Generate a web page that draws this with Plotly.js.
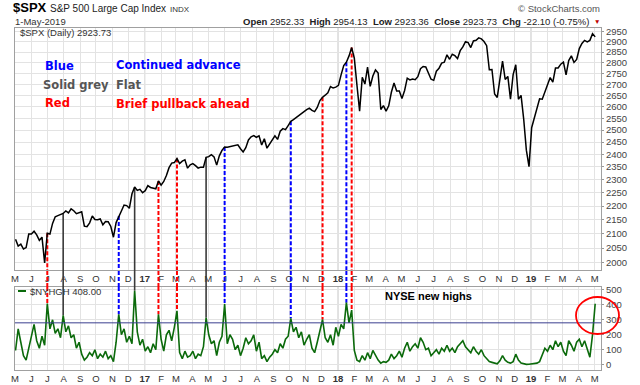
<!DOCTYPE html>
<html><head><meta charset="utf-8">
<script src="https://cdn.plot.ly/plotly-3.0.1.min.js"></script>
<style>html,body{margin:0;padding:0;background:#fff}#chart{width:640px;height:385px}</style>
</head><body><div id="chart"></div>
<script>
// ---------------- DATA ----------------
const startDate = '2016-05-02';
const stepDays = 5;

const spxClose = [
2081,2057,2064,2047,2052,2099,2099,2109,2096,2077,
2088,2000,2102,2099,2137,2161,2165,2169,2173,2182,
2175,2190,2183,2172,2176,2179,2127,2125,2139,2164,
2151,2150,2153,2132,2144,2143,2126,2088,2140,2164,
2182,2204,2202,2192,2246,2272,2259,2263,2250,2258,
2277,2270,2267,2265,2295,2279,2293,2316,2347,2365,
2367,2383,2363,2373,2378,2345,2358,2363,2355,2345,
2349,2349,2388,2391,2399,2390,2357,2394,2416,2430,
2429,2432,2433,2436,2439,2423,2410,2427,2459,2472,
2477,2470,2476,2438,2464,2425,2443,2457,2476,2461,
2495,2506,2502,2519,2537,2544,2553,2562,2569,2581,
2587,2594,2584,2579,2597,2627,2642,2651,2662,2690,
2683,2687,2695,2743,2786,2802,2832,2872,2821,2695,
2581,2732,2701,2779,2691,2738,2766,2752,2588,2605,
2581,2604,2664,2706,2670,2670,2636,2672,2728,2720,
2724,2721,2735,2772,2782,2780,2749,2723,2718,2760,
2774,2798,2802,2837,2816,2840,2833,2819,2857,2875,
2901,2896,2872,2904,2907,2919,2914,2901,2881,2767,
2768,2656,2641,2723,2807,2722,2736,2633,2744,2790,
2633,2650,2546,2417,2351,2510,2549,2596,2635,2633,
2665,2706,2731,2710,2775,2775,2793,2803,2743,2810,
2832,2801,2815,2867,2892,2907,2900,2907,2940,2924
];

const nyhgh = [
95,240,150,60,30,110,200,270,160,110,
190,130,409,240,300,210,240,180,330,220,
260,180,200,110,150,70,30,50,80,60,
100,40,70,50,90,40,60,20,150,337,
200,240,150,190,140,495,220,130,170,90,
120,80,140,100,337,170,90,200,230,160,
250,360,80,40,90,50,60,90,40,70,
60,120,314,200,140,160,60,150,190,406,
140,200,170,100,130,60,110,180,140,160,
200,90,150,40,60,20,50,70,100,80,
140,110,170,190,310,220,250,180,220,130,
170,200,110,80,150,220,302,180,150,200,
130,250,190,270,240,415,280,365,95,30,
20,60,30,80,40,95,60,30,10,20,
15,30,70,40,60,90,50,110,150,90,
120,140,110,180,150,100,110,60,80,100,
70,110,90,130,90,110,80,120,140,160,
120,100,80,120,90,70,100,60,40,20,
15,8,5,25,60,30,15,10,20,70,
30,10,5,2,3,5,8,10,20,60,
110,90,130,100,160,120,150,90,60,160,
130,90,150,170,120,160,110,50,200,408
];

const monthTicks = [
'2016-05-01','2016-06-01','2016-07-01','2016-08-01','2016-09-01','2016-10-01','2016-11-01','2016-12-01',
'2017-01-01','2017-02-01','2017-03-01','2017-04-01','2017-05-01','2017-06-01','2017-07-01','2017-08-01','2017-09-01','2017-10-01','2017-11-01','2017-12-01',
'2018-01-01','2018-02-01','2018-03-01','2018-04-01','2018-05-01','2018-06-01','2018-07-01','2018-08-01','2018-09-01','2018-10-01','2018-11-01','2018-12-01',
'2019-01-01','2019-02-01','2019-03-01','2019-04-01','2019-05-01'
];
const monthLabels = [
'M','J','J','A','S','O','N','D',
'<b>17</b>','F','M','A','M','J','J','A','S','O','N','D',
'<b>18</b>','F','M','A','M','J','J','A','S','O','N','D',
'<b>19</b>','F','M','A','M'
];
const yearStarts = ['2017-01-01','2018-01-01','2019-01-01'];
const priceTicks = [2000,2050,2100,2150,2200,2250,2300,2350,2400,2450,2500,2550,2600,2650,2700,2750,2800,2850,2900,2950];
const highsTicks = [0,100,200,300,400,500];

// signal markers (index into the series)
const redIdx = [12,54,61,116,127];
const blueIdx = [39,79,104,125];
const greyIdx = [18,45,72];
const threshold = 280;

// ---------------- BUILD ----------------
const dates = spxClose.map((_, i) => {
  const d = new Date(Date.UTC(2016,4,2) + i*stepDays*86400000);
  return d.toISOString().slice(0,10);
});

const W=640,H=385,M={l:15,r:39,t:28,b:15};
const px = x => (x - M.l)/(W - M.l - M.r);
const py = y => (H - M.b - y)/(H - M.t - M.b);

const priceMin = 1976, priceMax = 2968;
const highsMin = -36, highsMax = 520;
const topDomain = [100/342, 1];
const botDomain = [0, 83/342];

const FF = 'Liberation Sans, Arial, sans-serif';
const traces = [];
const shapes = [];

function addMarkers(idxs, color, dash, width){
  idxs.forEach(i => {
    const d = dates[i];
    traces.push({x:[d,d], y:[spxClose[i], priceMin], xaxis:'x', yaxis:'y', mode:'lines',
      line:{color:color, dash:dash, width:width}, hoverinfo:'skip'});
    traces.push({x:[d,d], y:[highsMax, nyhgh[i]], xaxis:'x2', yaxis:'y2', mode:'lines',
      line:{color:color, dash:dash, width:width}, hoverinfo:'skip'});
    shapes.push({type:'line', xref:'x', yref:'paper', x0:d, x1:d, y0:botDomain[1], y1:topDomain[0],
      line:{color:color, dash:dash, width:width}});
  });
}
addMarkers(redIdx, '#ff0000', '4px,2px', 2);
addMarkers(blueIdx, '#0000ff', '4px,2px', 2);
addMarkers(greyIdx, '#3a3a3a', 'solid', 1.6);

traces.push({x:dates, y:spxClose, xaxis:'x', yaxis:'y', mode:'lines',
  line:{color:'#000', width:1.5}, hoverinfo:'skip'});
traces.push({x:dates, y:nyhgh, xaxis:'x2', yaxis:'y2', mode:'lines',
  line:{color:'#0b6a0b', width:1.6}, hoverinfo:'skip'});

yearStarts.forEach(d => {
  shapes.push({type:'line', xref:'x', yref:'y domain', x0:d, x1:d, y0:0, y1:1, line:{color:'#b5b5b5', width:1}, layer:'below'});
  shapes.push({type:'line', xref:'x2', yref:'y2 domain', x0:d, x1:d, y0:0, y1:1, line:{color:'#b5b5b5', width:1}, layer:'below'});
});
shapes.push({type:'line', xref:'x2 domain', yref:'y2', x0:0, x1:1, y0:threshold, y1:threshold, line:{color:'#3b3f8f', width:1}});
shapes.push({type:'line', xref:'paper', yref:'paper', x0:px(18), x1:px(26), y0:py(291), y1:py(291), line:{color:'#0b6a0b', width:2}});
shapes.push({type:'circle', xref:'paper', yref:'paper', x0:px(576), x1:px(619), y0:py(334), y1:py(297), line:{color:'#ff0000', width:1.8}});

function ann(text, x, y, size, color, xa, fam){
  return {text:text, xref:'paper', yref:'paper', x:px(x), y:py(y), xanchor:xa||'left', yanchor:'middle',
    showarrow:false, borderpad:0, font:{family:fam||FF, size:size, color:color}};
}
const LF = 'DejaVu Sans, Verdana, sans-serif';
const annotations = [
  ann('<b>$SPX</b>', 12, 8, 13, '#000'),
  ann('S&P 500 Large Cap Index', 49, 9, 10, '#222'),
  ann('INDX', 169, 9.5, 8, '#333'),
  ann('1-May-2019', 14, 21, 9.5, '#333'),
  ann('<b>Open</b> 2952.33  <b>High</b> 2954.13  <b>Low</b> 2923.36  <b>Close</b> 2923.73  <b>Chg</b> -22.10 (-0.75%)', 590, 21, 9.5, '#222', 'right'),
  ann('▼', 597, 21, 6.5, '#c00000', 'center'),
  ann('© StockCharts.com', 601, 9, 9.5, '#555', 'right'),
  ann('$SPX (Daily) 2923.73', 19, 33, 9.5, '#333'),
  ann('$NYHGH 408.00', 29, 291, 9.5, '#333'),
  ann('<b>Blue</b>', 44, 66, 11.5, '#0000ff', 'left', LF),
  ann('<b>Continued advance</b>', 115, 64.5, 11.5, '#0000ff', 'left', LF),
  ann('<b>Solid grey</b>', 42, 84.5, 11.5, '#555555', 'left', LF),
  ann('<b>Flat</b>', 115, 85, 11.5, '#555555', 'left', LF),
  ann('<b>Red</b>', 44, 103, 11.5, '#ff0000', 'left', LF),
  ann('<b>Brief pullback ahead</b>', 115, 104, 11.5, '#ff0000', 'left', LF),
  ann('<b>NYSE new highs</b>', 384, 296, 11, '#000')
];

const xBase = {type:'date', range:['2016-05-01','2019-05-13'], tickmode:'array', tickvals:monthTicks, ticktext:monthLabels,
  showgrid:true, gridcolor:'#e3e3e3', gridwidth:1, ticks:'', tickfont:{family:FF, size:9.5, color:'#333'},
  showline:true, linecolor:'#a0a0a0', mirror:true, zeroline:false, fixedrange:true};

const layout = {
  width:W, height:H, margin:M, paper_bgcolor:'#fff', plot_bgcolor:'#fff', showlegend:false,
  xaxis: Object.assign({}, xBase, {anchor:'y'}),
  xaxis2: Object.assign({}, xBase, {anchor:'y2', matches:'x'}),
  yaxis: {type:'log', domain:topDomain, range:[Math.log10(priceMin), Math.log10(priceMax)], side:'right',
    tickmode:'array', tickvals:priceTicks, ticktext:priceTicks.map(String),
    showgrid:true, gridcolor:'#e3e3e3', ticks:'outside', ticklen:2, tickcolor:'#999',
    tickfont:{family:FF, size:9.5, color:'#444'}, showline:true, linecolor:'#a0a0a0', mirror:true, zeroline:false},
  yaxis2: {domain:botDomain, range:[highsMin, highsMax], side:'right', tickmode:'array', tickvals:highsTicks,
    showgrid:true, gridcolor:'#e3e3e3', ticks:'outside', ticklen:2, tickcolor:'#999',
    tickfont:{family:FF, size:9.5, color:'#444'}, showline:true, linecolor:'#a0a0a0', mirror:true, zeroline:false},
  shapes: shapes,
  annotations: annotations
};

Plotly.newPlot('chart', traces, layout, {staticPlot:true, displayModeBar:false});
</script>
</body></html>
